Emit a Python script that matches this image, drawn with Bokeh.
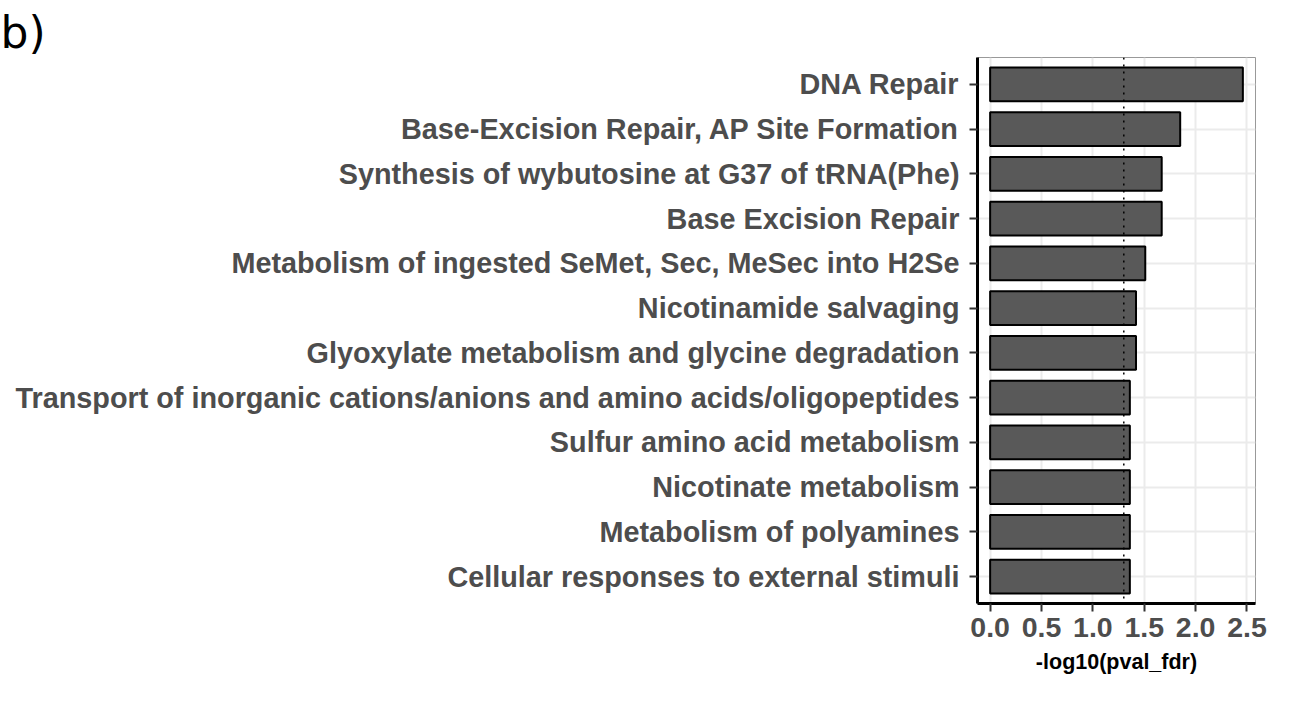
from bokeh.plotting import figure
from bokeh.models import FactorRange, Range1d, FixedTicker, NumeralTickFormatter, Span, Title
from bokeh.embed import file_html
from bokeh.resources import INLINE

# ---- data (top to bottom as displayed) ----
pathways = [
    "DNA Repair",
    "Base-Excision Repair, AP Site Formation",
    "Synthesis of wybutosine at G37 of tRNA(Phe)",
    "Base Excision Repair",
    "Metabolism of ingested SeMet, Sec, MeSec into H2Se",
    "Nicotinamide salvaging",
    "Glyoxylate metabolism and glycine degradation",
    "Transport of inorganic cations/anions and amino acids/oligopeptides",
    "Sulfur amino acid metabolism",
    "Nicotinate metabolism",
    "Metabolism of polyamines",
    "Cellular responses to external stimuli",
]
neglog10_fdr = [2.46, 1.85, 1.67, 1.67, 1.51, 1.42, 1.42, 1.36, 1.36, 1.36, 1.36, 1.36]
threshold = 1.30103  # -log10(0.05)
x_ticks = [0.0, 0.5, 1.0, 1.5, 2.0, 2.5]
x_title = "-log10(pval_fdr)"
panel_tag = "b)"

factors = list(reversed(pathways))

W, H = 1275, 686
p = figure(
    width=W, height=H,
    y_range=FactorRange(factors=factors, range_padding=0.2 / 12),
    x_range=Range1d(-0.123, 2.583),
    output_backend="svg", toolbar_location=None,
    min_border_left=977, min_border_right=20, min_border_top=57, min_border_bottom=83,
)

p.hbar(y=pathways, right=neglog10_fdr, left=0, height=0.75,
       fill_color="#595959", line_color="black", line_width=2)

p.add_layout(Span(location=threshold, dimension="height", line_color="black",
                  line_dash="2 5", line_width=1.5))

font = "Liberation Sans"
grey_txt = "#4d4d4d"

# grids
p.xgrid.ticker = FixedTicker(ticks=x_ticks)
p.xgrid.grid_line_color = "#ebebeb"
p.xgrid.grid_line_width = 2
p.ygrid.grid_line_color = "#ebebeb"
p.ygrid.grid_line_width = 2

# outline
p.outline_line_color = "#999999"
p.outline_line_width = 1

# x axis
xa = p.xaxis[0]
xa.ticker = FixedTicker(ticks=x_ticks)
xa.formatter = NumeralTickFormatter(format="0.0")
xa.minor_tick_line_color = None
xa.major_tick_in = 0
xa.major_tick_out = 8
xa.major_tick_line_width = 2
xa.major_tick_line_color = "#333333"
xa.axis_line_color = "black"
xa.axis_line_width = 3
xa.major_label_text_font = font
xa.major_label_text_font_style = "bold"
xa.major_label_text_font_size = "28.5px"
xa.major_label_text_color = grey_txt
xa.major_label_standoff = 6
xa.axis_label = x_title
xa.axis_label_text_font = font
xa.axis_label_text_font_style = "bold"
xa.axis_label_text_font_size = "21.5px"
xa.axis_label_text_color = "black"
xa.axis_label_standoff = 10

# y axis
ya = p.yaxis[0]
ya.major_tick_in = 0
ya.major_tick_out = 8
ya.major_tick_line_width = 2
ya.major_tick_line_color = "#333333"
ya.axis_line_color = "black"
ya.axis_line_width = 3
ya.major_label_text_font = font
ya.major_label_text_font_style = "bold"
ya.major_label_text_font_size = "28.8px"
ya.major_label_text_color = grey_txt
ya.major_label_standoff = 10

# panel tag in the top-left corner
p.add_layout(Title(text=panel_tag, align="left", offset=-977, standoff=0,
                   text_font="DejaVu Sans", text_font_size="44px",
                   text_font_style="normal", text_color="black"), "above")

p.background_fill_color = "white"
p.border_fill_color = "white"

open("out.html", "w").write(file_html(p, INLINE))
